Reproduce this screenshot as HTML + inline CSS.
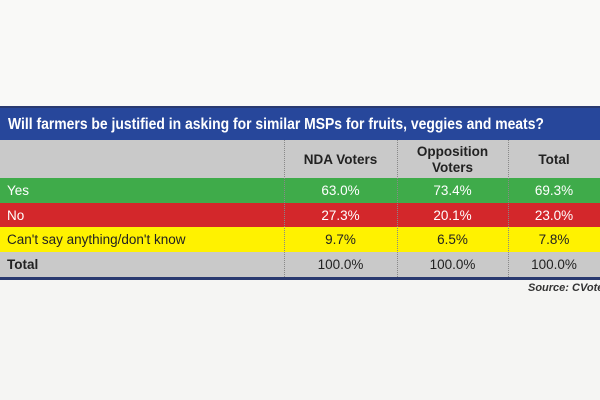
<!DOCTYPE html>
<html><head><style>
body{margin:0;width:600px;height:400px;background:#f7f7f5;position:relative;overflow:hidden;font-family:"Liberation Sans",sans-serif}
.r{position:absolute;left:0;width:600px}
.t{position:absolute;font-size:13.5px;white-space:nowrap}
.c{position:absolute;text-align:center;font-size:13.5px}
.d{position:absolute;top:140px;height:137px;border-left:1px dotted #888}
</style></head><body>
<div class="r" style="top:0;height:106px;background:#f9f9f7"></div>
<div class="r" style="top:106px;height:174px;background:#2a3a70"></div>
<div class="r" style="top:108px;height:32px;background:#27479b"></div>
<div class="t" style="left:8px;top:116px;color:#fff;font-size:16px;font-weight:bold;transform:scaleX(0.87);transform-origin:0 0">Will farmers be justified in asking for similar MSPs for fruits, veggies and meats?</div>
<div class="r" style="top:140px;height:38px;background:#c9c9c9"></div>
<div class="r" style="top:178px;height:25px;background:#3fab4a"></div>
<div class="r" style="top:203px;height:24px;background:#d3272b"></div>
<div class="r" style="top:227px;height:25px;background:#fff200"></div>
<div class="r" style="top:252px;height:25px;background:#c9c9c9"></div>
<div class="r" style="top:280px;height:120px;background:#f5f5f3"></div>
<div class="d" style="left:284px"></div>
<div class="d" style="left:397px"></div>
<div class="d" style="left:508px"></div>
<div class="t" style="left:7px;top:183px;color:#fff">Yes</div>
<div class="t" style="left:7px;top:208px;color:#fff">No</div>
<div class="t" style="left:7px;top:232px;color:#222">Can't say anything/don't know</div>
<div class="t" style="left:7px;top:257px;color:#222;font-weight:bold">Total</div>
<div class="c" style="left:284px;width:113px;top:152px;color:#222;font-weight:bold">NDA Voters</div>
<div class="c" style="left:397px;width:111px;top:144px;color:#222;line-height:16px;font-weight:bold">Opposition<br>Voters</div>
<div class="c" style="left:508px;width:92px;top:152px;color:#222;font-weight:bold">Total</div>
<div class="c" style="left:284px;width:113px;top:183px;color:#fff">63.0%</div>
<div class="c" style="left:397px;width:111px;top:183px;color:#fff">73.4%</div>
<div class="c" style="left:508px;width:92px;top:183px;color:#fff">69.3%</div>
<div class="c" style="left:284px;width:113px;top:208px;color:#fff">27.3%</div>
<div class="c" style="left:397px;width:111px;top:208px;color:#fff">20.1%</div>
<div class="c" style="left:508px;width:92px;top:208px;color:#fff">23.0%</div>
<div class="c" style="left:284px;width:113px;top:232px;color:#222">9.7%</div>
<div class="c" style="left:397px;width:111px;top:232px;color:#222">6.5%</div>
<div class="c" style="left:508px;width:92px;top:232px;color:#222">7.8%</div>
<div class="c" style="left:284px;width:113px;top:257px;color:#222">100.0%</div>
<div class="c" style="left:397px;width:111px;top:257px;color:#222">100.0%</div>
<div class="c" style="left:508px;width:92px;top:257px;color:#222">100.0%</div>
<div class="t" style="left:528px;top:282px;font-size:11px;font-style:italic;color:#333;font-weight:bold">Source: CVoter</div>
</body></html>
